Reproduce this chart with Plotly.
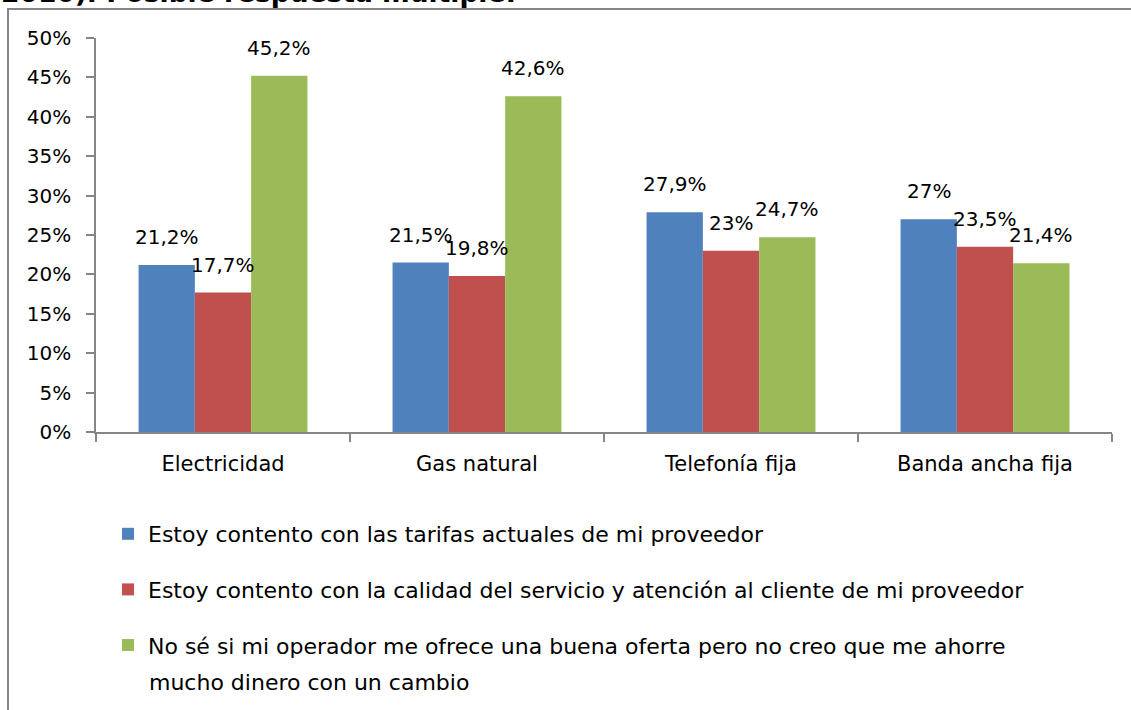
import plotly.graph_objects as go

# datos (porcentaje)
categorias = ['Electricidad', 'Gas natural', 'Telefonía fija', 'Banda ancha fija']
tarifas = [21.2, 21.5, 27.9, 27.0]
calidad = [17.7, 19.8, 23.0, 23.5]
no_ahorro = [45.2, 42.6, 24.7, 21.4]
etiquetas_tarifas = ['21,2%', '21,5%', '27,9%', '27%']
etiquetas_calidad = ['17,7%', '19,8%', '23%', '23,5%']
etiquetas_no_ahorro = ['45,2%', '42,6%', '24,7%', '21,4%']
nombres = [
    'Estoy contento con las tarifas actuales de mi proveedor',
    'Estoy contento con la calidad del servicio y atención al cliente de mi proveedor',
    'No sé si mi operador me ofrece una buena oferta pero no creo que me ahorre',
]
nombre_linea2 = 'mucho dinero con un cambio'
titulo = '2016). Posible respuesta múltiple:'

COLORES = ['#4F81BD', '#C0504D', '#9BBB59']
FUENTE = 'DejaVu Sans, sans-serif'
GRIS = '#868686'

W, H = 1131, 710
L, R, T, B = 96, 19, 38, 278
plot_w = W - L - R
plot_h = H - T - B

# pixel de la página -> coordenadas paper
def px_x(p):
    return (p - L) / plot_w

def px_y(p):
    return (H - B - p) / plot_h

series = [tarifas, calidad, no_ahorro]
etiquetas = [etiquetas_tarifas, etiquetas_calidad, etiquetas_no_ahorro]

fig = go.Figure()
for i, (vals, nombre) in enumerate(zip(series, nombres)):
    fig.add_trace(go.Bar(
        x=categorias, y=vals, name=nombre,
        marker=dict(color=COLORES[i], line=dict(width=0)),
        legendgroup=f'g{i}',
        hoverinfo='skip',
    ))

# etiquetas de datos encima de cada barra
bar_w = plot_w / len(categorias) * (1 - 0.335) / 3
for i, (vals, labs) in enumerate(zip(series, etiquetas)):
    for cat, v, lab in zip(categorias, vals, labs):
        fig.add_annotation(
            x=cat, y=v, xref='x', yref='y', text=lab, showarrow=False,
            xshift=(i - 1) * bar_w, yshift=28, yanchor='middle',
            font=dict(family=FUENTE, size=20, color='black'),
        )

# título cortado arriba
fig.add_annotation(
    x=px_x(-1), y=px_y(10), xref='paper', yref='paper', text='<b>' + titulo + '</b>',
    showarrow=False, xanchor='left', yanchor='bottom',
    font=dict(family=FUENTE, size=26.5, color='black'),
)

# segunda línea de la tercera entrada de la leyenda
fig.add_annotation(
    x=px_x(147), y=px_y(682), xref='paper', yref='paper', text=nombre_linea2,
    showarrow=False, xanchor='left', yanchor='middle',
    font=dict(family=FUENTE, size=22, color='black'),
)

# marco del área del gráfico
fig.add_shape(
    type='rect', xref='paper', yref='paper',
    x0=px_x(8), x1=px_x(W + 20), y0=px_y(9), y1=px_y(H + 20),
    line=dict(color=GRIS, width=2), fillcolor='rgba(0,0,0,0)', layer='below',
)

fig.update_layout(
    width=W, height=H,
    margin=dict(l=L, r=R, t=T, b=B),
    paper_bgcolor='white', plot_bgcolor='white',
    barmode='group', bargap=0.335, bargroupgap=0,
    font=dict(family=FUENTE, size=20, color='black'),
    showlegend=True,
    legend=dict(
        orientation='v', x=px_x(108), y=px_y(513), xanchor='left', yanchor='top',
        font=dict(family=FUENTE, size=22, color='black'),
        tracegroupgap=24, bgcolor='rgba(0,0,0,0)',
    ),
)
fig.update_xaxes(
    showline=True, linecolor=GRIS, linewidth=1.5,
    ticks='outside', tickson='boundaries', ticklen=8, tickcolor=GRIS, tickwidth=1.5,
    ticklabelstandoff=12, showgrid=False,
    tickfont=dict(family=FUENTE, size=21),
)
fig.update_yaxes(
    range=[0, 50], dtick=5, ticksuffix='%',
    showline=True, linecolor=GRIS, linewidth=1.5,
    ticks='outside', ticklen=8, tickcolor=GRIS, tickwidth=1.5,
    ticklabelstandoff=11, showgrid=False, zeroline=False,
    tickfont=dict(family=FUENTE, size=20),
)

fig.write_html('out.html', config={'displayModeBar': False},
               post_script="document.body.style.margin='0';")
